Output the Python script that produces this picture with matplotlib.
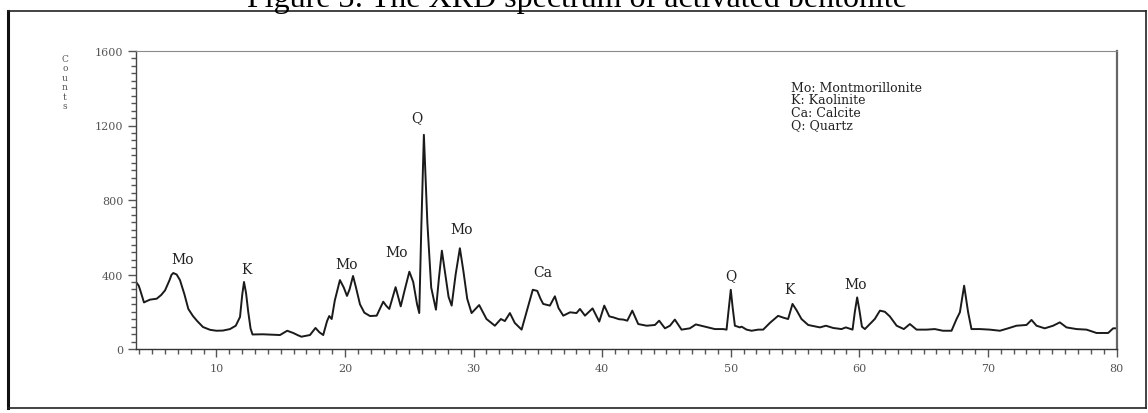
import matplotlib
matplotlib.use("Agg")
import matplotlib.pyplot as plt
from matplotlib.lines import Line2D
from matplotlib.ticker import MultipleLocator

# XRD pattern of activated bentonite (2-theta in degrees, counts)
two_theta = [3.74, 3.95, 4.05, 4.36, 4.6, 4.83, 5.35, 5.7, 6.0, 6.35, 6.5, 6.64, 6.8, 6.9, 7.16, 7.5,
             7.81, 8.17, 8.5, 8.95, 9.5, 10.0, 10.5, 11.05, 11.5, 11.83, 12.0, 12.14, 12.3,
             12.47, 12.65, 12.8, 13.6, 14.3, 14.94, 15.5, 15.97, 16.3, 16.6, 17.27, 17.7,
             18.0, 18.3, 18.6, 18.77, 18.96, 19.2, 19.6, 19.9, 20.15, 20.35, 20.62, 20.85,
             21.16, 21.5, 21.94, 22.46, 22.97, 23.2, 23.44, 23.93, 24.33, 24.65, 25.0, 25.3,
             25.6, 25.77, 25.93, 26.13, 26.4, 26.7, 27.07, 27.3, 27.53, 27.8, 28.05, 28.29,
             28.6, 28.93, 29.2, 29.5, 29.84, 30.43, 31.0, 31.65, 32.12, 32.43, 32.82, 33.2,
             33.73, 34.2, 34.6, 34.95, 35.2, 35.41, 35.93, 36.32, 36.6, 36.97, 37.5, 38.0,
             38.27, 38.66, 39.25, 39.77, 40.16, 40.55, 40.86, 41.3, 41.64, 41.95, 42.34,
             42.8, 43.46, 44.1, 44.43, 44.88, 45.27, 45.65, 46.17, 46.82, 47.28, 48.24,
             48.76, 49.41, 49.67, 49.85, 50.0, 50.15, 50.32, 50.71, 50.84, 51.23, 51.62,
             52.13, 52.52, 53.04, 53.68, 54.1, 54.46, 54.8, 55.1, 55.5, 56.02, 56.93, 57.4,
             57.96, 58.61, 58.95, 59.47, 59.65, 59.83, 60.0, 60.2, 60.43, 60.82, 61.2, 61.6,
             61.98, 62.37, 62.9, 63.46, 63.93, 64.45, 65.23, 65.87, 66.5, 67.17, 67.56,
             67.82, 68.15, 68.46, 68.72, 69.37, 70.15, 70.93, 71.57, 72.22, 73.0, 73.39,
             73.78, 74.42, 75.07, 75.59, 76.11, 76.89, 77.67, 78.45, 79.35, 79.74, 80.0]
counts = [360, 340, 320, 250, 258, 265, 270, 290, 315, 370, 398, 408, 403, 400, 370, 295,
          215, 177, 150, 118, 103, 98, 99, 107, 125, 172, 290, 360, 300,
          199, 110, 78, 79, 77, 75, 98, 86, 75, 66, 75, 113,
          90, 75, 150, 177, 161, 260, 370, 330, 285, 320, 392, 330,
          240, 195, 177, 179, 254, 232, 215, 332, 229, 320, 415, 360,
          240, 193, 650, 1150, 680, 330, 211, 380, 528, 400, 280, 233,
          400, 541, 420, 270, 193, 236, 161, 125, 161, 150, 193, 140,
          104, 220, 318, 312, 270, 242, 233, 283, 220, 179, 197, 193,
          215, 179, 218, 147, 233, 175, 170, 160, 158, 152, 206,
          134, 125, 129, 152, 111, 125, 158, 104, 111, 132, 116,
          107, 107, 104, 220, 318, 220, 125, 116, 120, 104, 98,
          104, 104, 140, 178, 168, 161, 242, 210, 161, 129, 116, 125,
          113, 107, 116, 104, 200, 277, 210, 120, 107, 134, 161, 206,
          200, 175, 125, 107, 134, 104, 104, 107, 98, 98, 161,
          197, 340, 197, 107, 107, 104, 98, 111, 125, 129, 156,
          125, 111, 125, 143, 116, 107, 104, 86, 86, 111, 111]

# phase labels placed over the peaks
peak_labels = ["Mo", "K", "Mo", "Mo", "Q", "Mo", "Ca", "Q", "K", "Mo"]
peak_x = [7.4, 12.35, 20.1, 24.0, 25.57, 29.07, 35.41, 50.0, 54.6, 59.73]
peak_y = [483, 430, 456, 519, 1244, 644, 412, 397, 322, 349]

legend_lines = ["Mo: Montmorillonite", "K: Kaolinite", "Ca: Calcite", "Q: Quartz"]

serif = ["DejaVu Serif"]
grey = "#555555"

fig = plt.figure(figsize=(11.48, 4.14), dpi=100)
fig.patch.set_facecolor("white")

# caption above the frame
fig.text(0.5026, 1 - 7.5 / 414, "Figure 3: The XRD spectrum of activated bentonite",
         ha="center", va="baseline", fontsize=23, family=["Liberation Serif"], color="black")

# outer frame
x0, x1 = 8 / 1148, 1146 / 1148
y0, y1 = 1 - 409 / 414, 1 - 12 / 414
fig.add_artist(Line2D([x0, x0], [y0, y1], color="#111111", lw=2.2))
fig.add_artist(Line2D([x0, x1], [y1, y1], color="#222222", lw=1.2))
fig.add_artist(Line2D([x1, x1], [y0, y1], color="#222222", lw=1.2))
fig.add_artist(Line2D([x0, x1], [y0, y0], color="#222222", lw=1.2))

ax = fig.add_axes([136 / 1148, 64 / 414, 980.5 / 1148, 298 / 414])
ax.plot(two_theta, counts, color="#1a1a1a", lw=1.4, solid_joinstyle="round")

ax.set_xlim(3.74, 80)
ax.set_ylim(0, 1600)

ax.xaxis.set_major_locator(MultipleLocator(10))
ax.xaxis.set_minor_locator(MultipleLocator(1))
ax.yaxis.set_major_locator(MultipleLocator(400))
ax.yaxis.set_minor_locator(MultipleLocator(40))
ax.tick_params(axis="both", which="major", direction="out", length=6, width=1.0,
               colors=grey, labelsize=8, pad=3)
ax.tick_params(axis="both", which="minor", direction="out", length=3.5, width=1.0, colors=grey)
ax.tick_params(axis="x", which="major", pad=4)
for lab in ax.get_xticklabels() + ax.get_yticklabels():
    lab.set_family(serif)
    lab.set_color(grey)

ax.spines["left"].set_color("#444444")
ax.spines["bottom"].set_color("#333333")
ax.spines["top"].set_color("#8a8a8a")
ax.spines["right"].set_color("#666666")
ax.spines["right"].set_linewidth(1.6)
ax.spines["left"].set_linewidth(1.0)
ax.spines["bottom"].set_linewidth(1.0)

# stacked "Counts" axis title
fig.text(65 / 1148, 1 - 83 / 414, "C\no\nu\nn\nt\ns", ha="center", va="center",
         multialignment="center", fontsize=6.5, family=serif, color=grey, linespacing=1.05)

for lab, px, py in zip(peak_labels, peak_x, peak_y):
    ax.text(px, py, lab, ha="center", va="center", fontsize=10, family=serif, color="#222222")

legend_y = [0.879, 0.837, 0.795, 0.752]
for line, ly in zip(legend_lines, legend_y):
    ax.text(0.668, ly, line, transform=ax.transAxes, ha="left", va="center",
            fontsize=9, family=serif, color="#222222")

fig.savefig("out.png", dpi=100)
